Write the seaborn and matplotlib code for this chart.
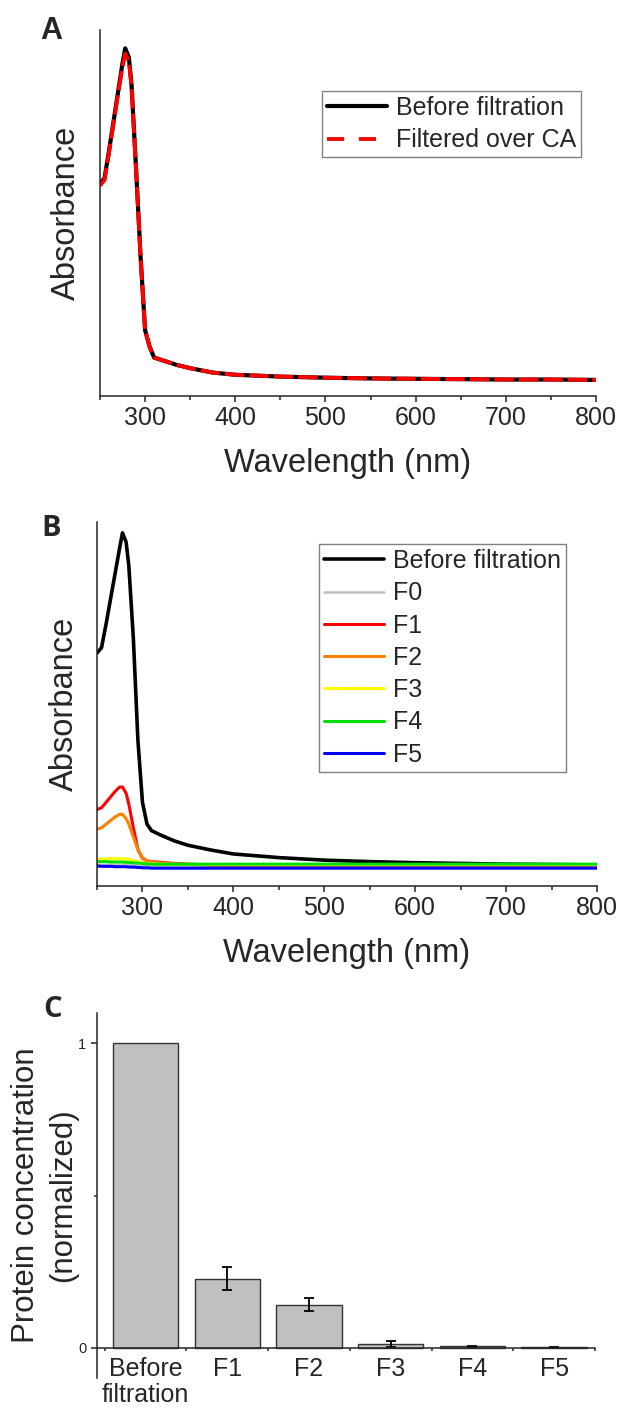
import numpy as np
import pandas as pd
import matplotlib
matplotlib.use('Agg')
import matplotlib.pyplot as plt
from matplotlib.ticker import MultipleLocator
import seaborn as sns

# wavelengths where the spectra were read (nm)
wavelength = [250, 255, 260, 265, 270, 275, 278, 282, 285, 290, 295, 300, 305, 310,
              320, 335, 350, 375, 400, 450, 500, 550, 600, 650, 700, 750, 800]

# panel A spectra (arbitrary absorbance units)
a_before = [0.58, 0.595, 0.67, 0.75, 0.83, 0.91, 0.95, 0.925, 0.85, 0.62, 0.38, 0.18, 0.135, 0.105,
            0.097, 0.085, 0.076, 0.064, 0.058, 0.053, 0.050, 0.048, 0.047, 0.046, 0.045, 0.045, 0.044]
a_ca = [0.575, 0.59, 0.665, 0.745, 0.825, 0.90, 0.935, 0.915, 0.845, 0.62, 0.38, 0.18, 0.135, 0.105,
        0.097, 0.085, 0.076, 0.064, 0.058, 0.053, 0.050, 0.048, 0.047, 0.046, 0.045, 0.045, 0.044]

# panel B spectra
b_before = [0.64, 0.655, 0.72, 0.79, 0.86, 0.93, 0.97, 0.945, 0.88, 0.68, 0.40, 0.23, 0.17, 0.152,
            0.14, 0.124, 0.112, 0.099, 0.088, 0.078, 0.071, 0.067, 0.064, 0.062, 0.060, 0.059, 0.058]
b_f0 = [0.058, 0.058, 0.058, 0.058, 0.058, 0.058, 0.058, 0.058, 0.057, 0.057, 0.057, 0.056, 0.056, 0.056,
        0.056, 0.055, 0.055, 0.055, 0.055, 0.055, 0.055, 0.055, 0.055, 0.055, 0.055, 0.054, 0.054]
b_f1 = [0.21, 0.215, 0.23, 0.245, 0.26, 0.272, 0.272, 0.255, 0.225, 0.16, 0.10, 0.076, 0.069, 0.067,
        0.065, 0.062, 0.060, 0.058, 0.058, 0.058, 0.058, 0.058, 0.058, 0.058, 0.058, 0.058, 0.058]
b_f2 = [0.156, 0.16, 0.17, 0.18, 0.19, 0.197, 0.197, 0.185, 0.17, 0.135, 0.10, 0.077, 0.069, 0.066,
        0.063, 0.061, 0.059, 0.058, 0.058, 0.058, 0.058, 0.058, 0.058, 0.058, 0.058, 0.058, 0.058]
b_f3 = [0.073, 0.074, 0.074, 0.075, 0.075, 0.075, 0.075, 0.074, 0.073, 0.070, 0.067, 0.064, 0.062, 0.061,
        0.060, 0.059, 0.059, 0.059, 0.059, 0.059, 0.059, 0.059, 0.059, 0.059, 0.059, 0.059, 0.059]
b_f4 = [0.067, 0.067, 0.067, 0.066, 0.066, 0.066, 0.066, 0.065, 0.065, 0.064, 0.063, 0.062, 0.061, 0.060,
        0.060, 0.060, 0.060, 0.060, 0.060, 0.060, 0.060, 0.060, 0.060, 0.060, 0.060, 0.060, 0.060]
b_f5 = [0.055, 0.054, 0.054, 0.054, 0.053, 0.053, 0.053, 0.053, 0.052, 0.052, 0.051, 0.050, 0.050, 0.049,
        0.049, 0.049, 0.049, 0.049, 0.049, 0.049, 0.049, 0.049, 0.049, 0.049, 0.049, 0.049, 0.049]

# panel C bars
fractions = ['Before\nfiltration', 'F1', 'F2', 'F3', 'F4', 'F5']
concentration = [1.0, 0.227, 0.141, 0.013, 0.004, 0.001]
conc_err = [0.0, 0.038, 0.022, 0.010, 0.002, 0.002]

sns.set_style('ticks')
plt.rcParams['font.family'] = ['Liberation Sans', 'DejaVu Sans']
plt.rcParams['axes.linewidth'] = 1.1

fig = plt.figure(figsize=(6.18, 14.09), dpi=100)
W, H = 618.0, 1409.0


def add_ax(left, top, right, bottom):
    return fig.add_axes([left / W, 1 - bottom / H, (right - left) / W, (bottom - top) / H])


def spectrum_axis(ax):
    ax.set_xlim(250, 800)
    ax.set_ylim(0, 1)
    ax.set_yticks([])
    ax.xaxis.set_major_locator(MultipleLocator(100))
    ax.xaxis.set_minor_locator(MultipleLocator(50))
    ax.tick_params(axis='x', which='major', length=4.3, width=1.1, pad=3, labelsize=18, direction='out')
    ax.tick_params(axis='x', which='minor', length=2.7, width=1.1, direction='out')
    ax.set_xlabel('Wavelength (nm)', fontsize=23.5)
    ax.set_ylabel('Absorbance', fontsize=23.5)
    sns.despine(ax=ax)


def style_legend(ax, anchor):
    leg = ax.legend(loc='upper left', bbox_to_anchor=anchor, borderaxespad=0, fontsize=18,
                    frameon=True, fancybox=False, framealpha=1, edgecolor='#808080',
                    handlelength=2.4, handletextpad=0.36, labelspacing=0.33, borderpad=0.2)
    leg.get_frame().set_linewidth(1.0)


# ---- A ----
axA = add_ax(100, 30, 596, 396)
dfA = pd.DataFrame({'wl': wavelength, 'before': a_before, 'ca': a_ca})
sns.lineplot(data=dfA, x='wl', y='before', color='black', linewidth=3.0, label='Before filtration', ax=axA)
sns.lineplot(data=dfA, x='wl', y='ca', color='#FF0000', linewidth=2.8, label='Filtered over CA', ax=axA)
axA.lines[1].set_dashes((5, 1.3))
spectrum_axis(axA)
axA.xaxis.set_label_coords(0.5, -0.142)
axA.yaxis.set_label_coords(-0.037, 0.5)
style_legend(axA, ((322 - 100) / 496, (396 - 91) / 366))
axA.get_legend().get_lines()[1].set_dashes((4.4, 3.8))

# ---- B ----
axB = add_ax(97, 522, 597, 886)
dfB = pd.DataFrame({'wl': wavelength, 'Before filtration': b_before, 'F0': b_f0, 'F1': b_f1,
                    'F2': b_f2, 'F3': b_f3, 'F4': b_f4, 'F5': b_f5})
b_colors = {'Before filtration': 'black', 'F0': '#C0C0C0', 'F1': '#FF0000', 'F2': '#FF8000',
            'F3': '#FFFF00', 'F4': '#00E000', 'F5': '#0000FF'}
b_widths = {'Before filtration': 2.6, 'F0': 1.8, 'F1': 2.2, 'F2': 2.2, 'F3': 2.2, 'F4': 2.2, 'F5': 2.2}
for name in b_colors:
    sns.lineplot(data=dfB, x='wl', y=name, color=b_colors[name], linewidth=b_widths[name], label=name, ax=axB)
spectrum_axis(axB)
axB.xaxis.set_label_coords(0.5, -0.142)
axB.yaxis.set_label_coords(-0.034, 0.5)
style_legend(axB, ((319 - 97) / 500, (886 - 544) / 364))

# ---- C ----
axC = add_ax(97.3, 1013, 595, 1378)
dfC = pd.DataFrame({'fraction': fractions, 'conc': concentration, 'err': conc_err})
sns.barplot(data=dfC, x='fraction', y='conc', color='#C0C0C0', edgecolor='#333333', linewidth=1.0,
            width=0.8, saturation=1, ax=axC)
axC.errorbar(np.arange(1, 6), concentration[1:], yerr=conc_err[1:], fmt='none', ecolor='black',
             elinewidth=1.3, capsize=3.5, capthick=1.3)
axC.set_ylim(-0.1, 1.1)
axC.set_xlim(-0.59, 5.5)
axC.spines['bottom'].set_position(('data', 0))
sns.despine(ax=axC)
axC.set_xticks(np.arange(-0.5, 6, 1), labels=[''] * 7)
axC.set_xticks(np.arange(6), labels=fractions, minor=True)
axC.tick_params(axis='x', which='major', length=2.5, width=1.1, direction='out')
axC.tick_params(axis='x', which='minor', length=0, pad=7, labelsize=18)
for lab in axC.get_xticklabels(minor=True):
    lab.set_linespacing(1.08)
axC.set_yticks([0, 1], labels=['0', '1'])
axC.set_yticks([0.5], minor=True)
axC.tick_params(axis='y', which='major', length=4, width=1.1, pad=4, labelsize=10.5, direction='out')
axC.tick_params(axis='y', which='minor', length=2.5, width=1.1, direction='out')
axC.set_xlabel('')
axC.set_ylabel('Protein concentration\n(normalized)', fontsize=22.5, linespacing=1.3)
axC.yaxis.set_label_coords(-0.039, 0.5)

# panel letters
fig.text(40 / W, 1 - 39 / H, 'A', fontsize=22, fontweight='bold', va='baseline')
fig.text(41 / W, 1 - 536 / H, 'B', fontsize=21, fontweight='bold', va='baseline', family=['Open Sans', 'DejaVu Sans'])
fig.text(43 / W, 1 - 1017 / H, 'C', fontsize=21, fontweight='bold', va='baseline', family=['Open Sans', 'DejaVu Sans'])

fig.savefig('out.png', dpi=100)
